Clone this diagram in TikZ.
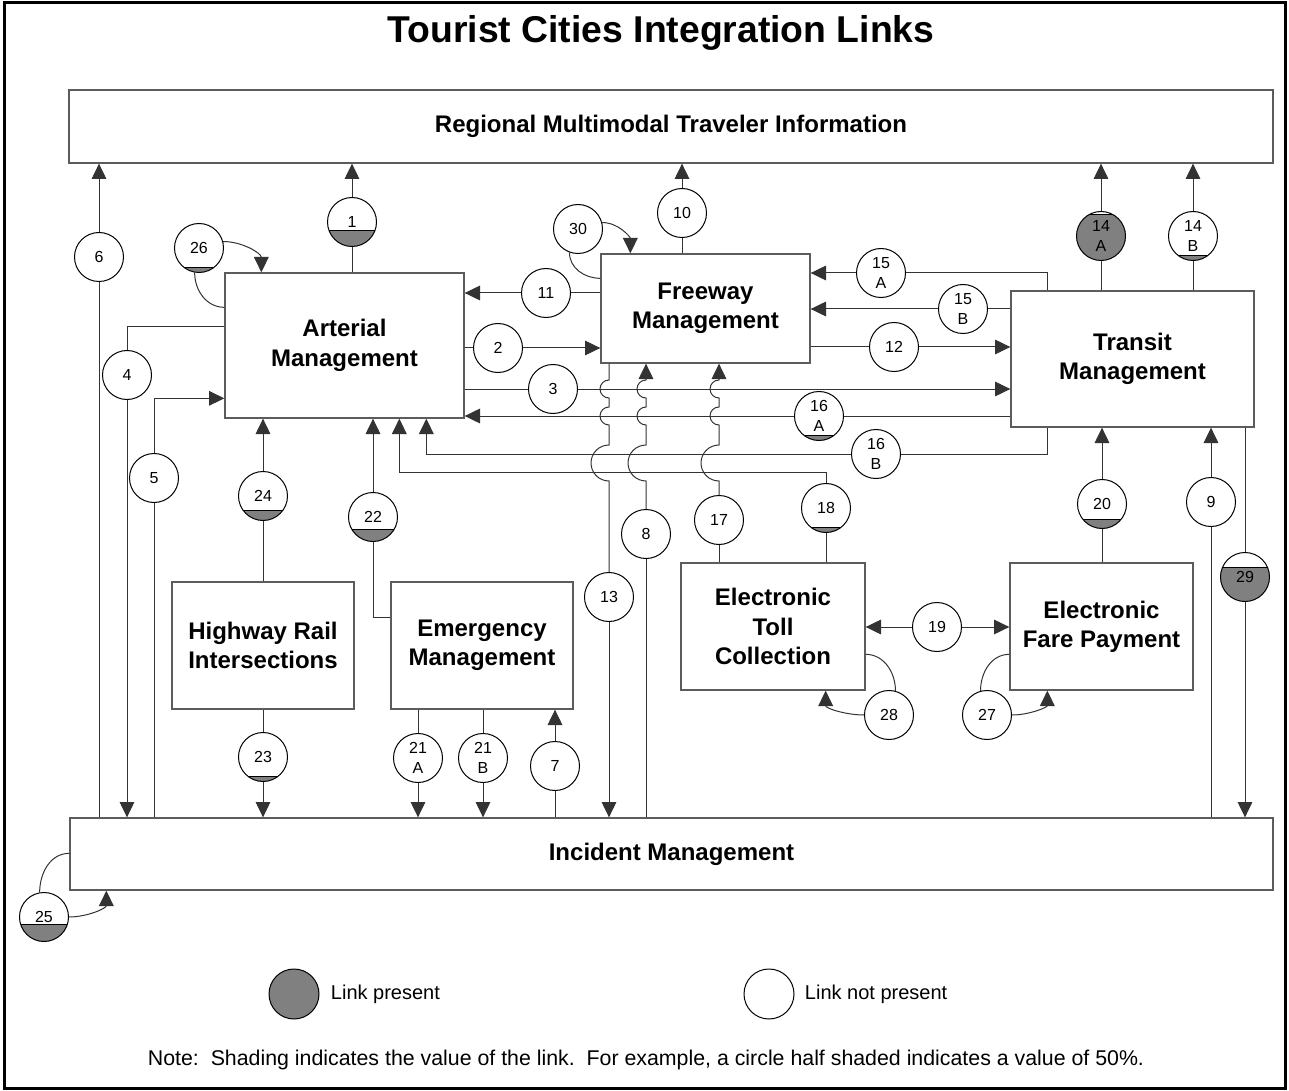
\documentclass[tikz,border=0pt]{standalone}
\usepackage{fontspec}
\setmainfont{Liberation Sans}
\usetikzlibrary{arrows.meta,calc}
\definecolor{shd}{HTML}{808080}
\definecolor{ln}{HTML}{333333}
\begin{document}
\begin{tikzpicture}[x=0.75pt,y=-0.75pt,
  line width=0.75pt, draw=ln,
  arr/.style={-{Triangle[length=11.5pt,width=11pt]}},
  box/.style={draw=ln!80!white, line width=1pt, fill=white, align=center, inner sep=0pt,
    font=\fontsize{18}{22}\selectfont\bfseries},
  wc/.style={circle, draw=black, line width=0.75pt, fill=white, minimum size=36.75pt,
    inner sep=0pt, align=center, font=\fontsize{12}{14.5}\selectfont},
  sc/.style={wc, path picture={\filldraw[fill=shd, draw=black, line width=0.5pt]
    ([yshift=-2pt]path picture bounding box.south west) rectangle
    ([yshift=#1 pt]path picture bounding box.south east);}}
]
\useasboundingbox (0,0) rectangle (1289,1091);
\draw[black, line width=2.25pt] (4,3) rectangle (1285,1088);

\node[font=\fontsize{28}{32}\selectfont\bfseries] (title) at (661,33) {Tourist Cities Integration Links};

% boxes
\node[box, minimum width=903pt, minimum height=54.75pt] (reg) at (671,126.5) {Regional Multimodal Traveler Information};
\node[box, minimum width=902.25pt, minimum height=54pt] (inc) at (671.5,854) {Incident Management};
\node[box, minimum width=179.25pt, minimum height=108.75pt] (art) at (344.5,345.5) {Arterial\\Management};
\node[box, minimum width=156.75pt, minimum height=81.75pt] (fwy) at (705.5,308.5) {Freeway\\Management};
\node[box, minimum width=182.25pt, minimum height=102pt] (trn) at (1132.5,359) {Transit\\Management};
\node[box, minimum width=136.5pt, minimum height=95.25pt] (hwy) at (263,645.5) {Highway Rail\\Intersections};
\node[box, minimum width=136.5pt, minimum height=95.25pt] (emg) at (482,645.5) {Emergency\\Management};
\node[box, minimum width=138pt, minimum height=95.25pt] (toll) at (773,626.5) {Electronic\\Toll\\Collection};
\node[box, minimum width=137.25pt, minimum height=95.25pt] (fare) at (1101.5,626.5) {Electronic\\Fare Payment};

% circles
\node[wc] (c6) at (99,257) {6};
\node[sc=12.4] (c1) at (352,222) {1};
\node[sc=3.9] (c26) at (199,248) {26};
\node[wc] (c4) at (127,375) {4};
\node[wc] (c5) at (154,478) {5};
\node[wc] (c2) at (498,348) {2};
\node[wc] (c3) at (553,389) {3};
\node[wc] (c11) at (546,293) {11};
\node[wc] (c30) at (578,229) {30};
\node[wc] (c10) at (682,213) {10};
\node[wc] (c12) at (894,347) {12};
\node[wc] (c15a) at (881,273) {15\\A};
\node[wc] (c15b) at (963,309) {15\\B};
\node[sc=34.5] (c14a) at (1101,236) {14\\A};
\node[sc=4] (c14b) at (1193,236) {14\\B};
\node[sc=4] (c16a) at (819,416) {16\\A};
\node[wc] (c16b) at (876,454) {16\\B};
\node[sc=3.7] (c18) at (826,508) {18};
\node[wc] (c8) at (646,534) {8};
\node[wc] (c13) at (609,597) {13};
\node[wc] (c17) at (719,520) {17};
\node[sc=6.8] (c20) at (1102,504) {20};
\node[wc] (c9) at (1211,502) {9};
\node[sc=25.7] (c29) at (1245,577) {29};
\node[wc] (c19) at (937,627) {19};
\node[wc] (c28) at (889,715) {28};
\node[wc] (c27) at (987,715) {27};
\node[sc=7.8] (c24) at (263,496) {24};
\node[sc=9.5] (c22) at (373,517) {22};
\node[sc=3.7] (c23) at (263,757) {23};
\node[wc] (c21a) at (418,758) {21\\A};
\node[wc] (c21b) at (483,758) {21\\B};
\node[wc] (c7) at (555,766) {7};
\node[sc=12.7] (c25) at (44,917) {25};

% connectors
% 6
\draw (c6 |- inc.north) -- (c6);
\draw[arr] (c6) -- (c6 |- reg.south);
% 1
\draw (c1 |- art.north) -- (c1);
\draw[arr] (c1) -- (c1 |- reg.south);
% 26
\draw[arr] (c26.15) to[out=0,in=90] ($(art.north west)+(37,0)$);
\draw (c26.-100) to[out=-90,in=180] ($(art.north west)+(0,35)$);
% 4
\draw ($(art.north west)+(0,54)$) -| (c4.north);
\draw[arr] (c4) -- (c4 |- inc.north);
% 5
\draw (c5 |- inc.north) -- (c5);
\draw[arr] (c5.north) |- ($(art.north west)+(0,126)$);
% 2
\draw (c2 -| art.east) -- (c2);
\draw[arr] (c2) -- (c2 -| fwy.west);
% 3
\draw (c3 -| art.east) -- (c3);
\draw[arr] (c3) -- (c3 -| trn.west);
% 11
\draw (c11 -| fwy.west) -- (c11);
\draw[arr] (c11) -- (c11 -| art.east);
% 30
\draw[arr] (c30.15) to[out=0,in=90] ($(fwy.north west)+(30,0)$);
\draw (c30.-110) to[out=-90,in=180] ($(fwy.north west)+(0,25)$);
% 10
\draw (c10 |- fwy.north) -- (c10);
\draw[arr] (c10) -- (c10 |- reg.south);
% 12
\draw (c12 -| fwy.east) -- (c12);
\draw[arr] (c12) -- (c12 -| trn.west);
% 15A
\coordinate (k15) at (1047,273);
\draw (trn.north -| k15) -- (k15) -- (c15a);
\draw[arr] (c15a) -- (c15a -| fwy.east);
% 15B
\draw (c15b -| trn.west) -- (c15b);
\draw[arr] (c15b) -- (c15b -| fwy.east);
% 14A 14B
\draw (c14a |- trn.north) -- (c14a);
\draw[arr] (c14a) -- (c14a |- reg.south);
\draw (c14b |- trn.north) -- (c14b);
\draw[arr] (c14b) -- (c14b |- reg.south);
% 16A
\draw (c16a -| trn.west) -- (c16a);
\draw[arr] (c16a) -- (c16a -| art.east);
% 16B
\coordinate (k16) at (1047,454);
\draw (trn.south -| k16) -- (k16) -- (c16b);
\draw[arr] (c16b.west) -| ($(art.south west)+(202,0)$);
% 18
\coordinate (k18) at (826,472);
\draw (c18 |- toll.north) -- (c18);
\draw[arr] (c18.north) -- (k18) -| ($(art.south west)+(175,0)$);
% 22
\draw ($(emg.north west)+(0,36)$) -| (c22.south);
\draw[arr] (c22) -- (c22 |- art.south);
% 24
\draw (c24 |- hwy.north) -- (c24);
\draw[arr] (c24) -- (c24 |- art.south);
% 23
\draw (c23 |- hwy.south) -- (c23);
\draw[arr] (c23) -- (c23 |- inc.north);
% 21A 21B
\draw (c21a |- emg.south) -- (c21a);
\draw[arr] (c21a) -- (c21a |- inc.north);
\draw (c21b |- emg.south) -- (c21b);
\draw[arr] (c21b) -- (c21b |- inc.north);
% 7
\draw (c7 |- inc.north) -- (c7);
\draw[arr] (c7) -- (c7 |- emg.south);
% 13 (with hops)
\draw (c13 |- fwy.south) -- (609,380) arc[start angle=90,end angle=270,radius=6.75pt]
  -- (609,407) arc[start angle=90,end angle=270,radius=6.75pt]
  -- (609,445) arc[start angle=90,end angle=270,radius=13.5pt] -- (c13);
\draw[arr] (c13) -- (c13 |- inc.north);
% 8
\draw (c8 |- inc.north) -- (c8);
\draw[arr] (c8) -- (646,481) arc[start angle=270,end angle=90,radius=13.5pt]
  -- (646,425) arc[start angle=270,end angle=90,radius=6.75pt]
  -- (646,398) arc[start angle=270,end angle=90,radius=6.75pt]
  -- (c8 |- fwy.south);
% 17
\draw (c17 |- toll.north) -- (c17);
\draw[arr] (c17) -- (719,481) arc[start angle=270,end angle=90,radius=13.5pt]
  -- (719,425) arc[start angle=270,end angle=90,radius=6.75pt]
  -- (719,398) arc[start angle=270,end angle=90,radius=6.75pt]
  -- (c17 |- fwy.south);
% 20
\draw (c20 |- fare.north) -- (c20);
\draw[arr] (c20) -- (c20 |- trn.south);
% 9
\draw (c9 |- inc.north) -- (c9);
\draw[arr] (c9) -- (c9 |- trn.south);
% 29
\draw (c29 |- trn.south) -- (c29);
\draw[arr] (c29) -- (c29 |- inc.north);
% 19
\draw[arr] (c19) -- (c19 -| toll.east);
\draw[arr] (c19) -- (c19 -| fare.west);
% 28
\draw ($(toll.north east)+(0,92)$) to[out=0,in=90] (c28.75);
\draw[arr] (c28.west) to[out=180,in=-90] ($(toll.south east)+(-40,0)$);
% 27
\draw ($(fare.north west)+(0,92)$) to[out=180,in=90] (c27.105);
\draw[arr] (c27.east) to[out=0,in=-90] ($(fare.south west)+(38,0)$);
% 25
\draw (c25.100) to[out=90,in=180] ($(inc.north west)+(0,36)$);
\draw[arr] (c25.east) to[out=0,in=-90] ($(inc.south west)+(37,0)$);

% legend
\node[circle, draw=black, fill=shd, minimum size=37.5pt, inner sep=0pt] (lg1) at (294,994) {};
\node[anchor=west, font=\fontsize{15}{18}\selectfont] (lt1) at (326,994) {Link present};
\node[circle, draw=black, fill=white, minimum size=37.5pt, inner sep=0pt] (lg2) at (769,994) {};
\node[anchor=west, font=\fontsize{15}{18}\selectfont] (lt2) at (800,994) {Link not present};
\node[font=\fontsize{16}{19}\selectfont] (note) at (646,1060) {Note:\ \ Shading indicates the value of the link.\ \ For example, a circle half shaded indicates a value of 50\%.};
\end{tikzpicture}
\end{document}
